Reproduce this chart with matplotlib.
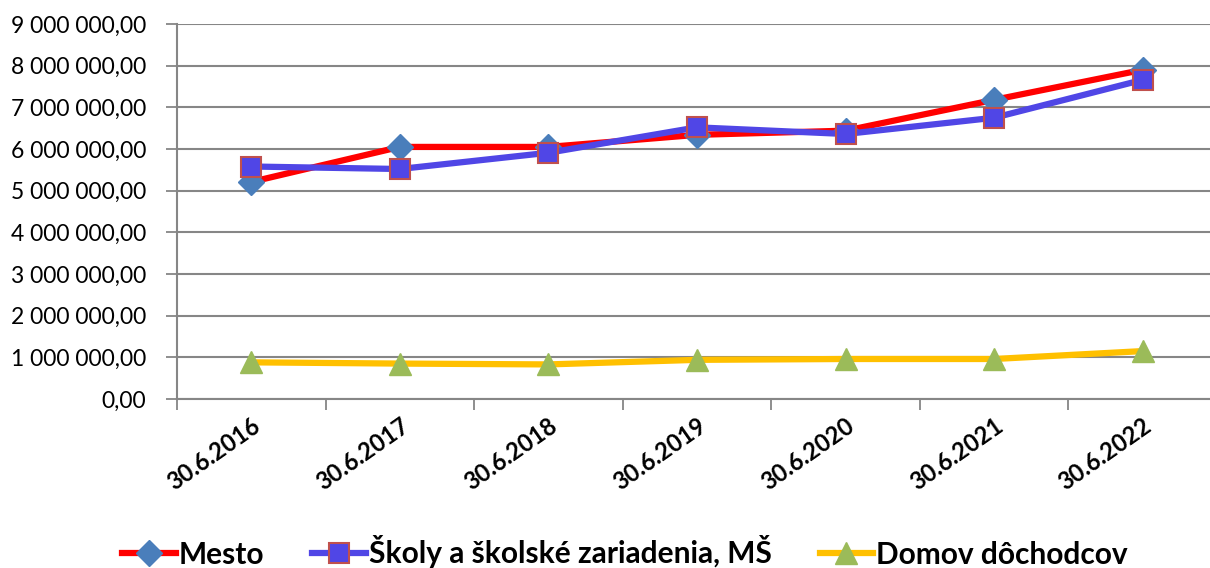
import numpy as np
import matplotlib.pyplot as plt
from matplotlib.ticker import FuncFormatter, FixedLocator

dates = ['30.6.2016', '30.6.2017', '30.6.2018', '30.6.2019',
         '30.6.2020', '30.6.2021', '30.6.2022']
mesto = [5210000, 6050000, 6050000, 6340000, 6440000, 7180000, 7900000]
skoly = [5580000, 5520000, 5910000, 6520000, 6360000, 6750000, 7660000]
domov = [880000, 850000, 830000, 940000, 960000, 960000, 1150000]

plt.rcParams['font.family'] = ['Lato', 'DejaVu Sans']

fig = plt.figure(figsize=(12.1, 5.68), dpi=100)
ax = fig.add_axes([177 / 1210, 169 / 568, 1040 / 1210, 375 / 568])

x = np.arange(len(dates))
ax.plot(x, mesto, color='#FF0000', lw=4.5, marker='D', ms=13,
        mfc='#4A7EBB', mec='#4A7EBB', label='Mesto', zorder=3)
ax.plot(x, skoly, color='#5046E6', lw=4.5, marker='s', ms=15,
        mfc='#5046E6', mec='#C0504D', mew=1.5,
        label='Školy a školské zariadenia, MŠ', zorder=4)
ax.plot(x, domov, color='#FFC000', lw=4.5, marker='^', ms=16,
        mfc='#9BBB59', mec='#9BBB59', label='Domov dôchodcov', zorder=3)

ax.set_xlim(-0.5, len(dates) - 0.5)
ax.set_ylim(0, 9000000)
ax.set_yticks(np.arange(0, 9000001, 1000000))
ax.yaxis.set_major_formatter(FuncFormatter(
    lambda v, p: f'{v:,.2f}'.replace(',', ' ').replace('.', ',')))
ax.yaxis.grid(True, color='#868686', lw=1.5)
ax.set_axisbelow(True)

ax.set_xticks(x)
ax.set_xticklabels(dates, rotation=35, ha='right', rotation_mode='anchor',
                   fontsize=17, fontweight='bold')
ax.tick_params(axis='x', length=0, pad=11)
ax.xaxis.set_minor_locator(FixedLocator(np.arange(-0.5, len(dates), 1)))
ax.tick_params(axis='x', which='minor', length=8, width=1.3, color='#868686')
ax.tick_params(axis='y', length=8, width=1.3, color='#868686', labelsize=16.5,
               pad=14)

for s in ['top', 'right']:
    ax.spines[s].set_visible(False)
for s in ['left', 'bottom']:
    ax.spines[s].set_color('#868686')
    ax.spines[s].set_linewidth(1.5)

fig.legend(loc='center', bbox_to_anchor=(0.5 + 20 / 1210, 16 / 568), ncol=3,
           frameon=False, prop={'weight': 'bold', 'size': 21.5},
           handlelength=1.8, handletextpad=0.1, columnspacing=1.6)

fig.savefig('out.png', dpi=100)
